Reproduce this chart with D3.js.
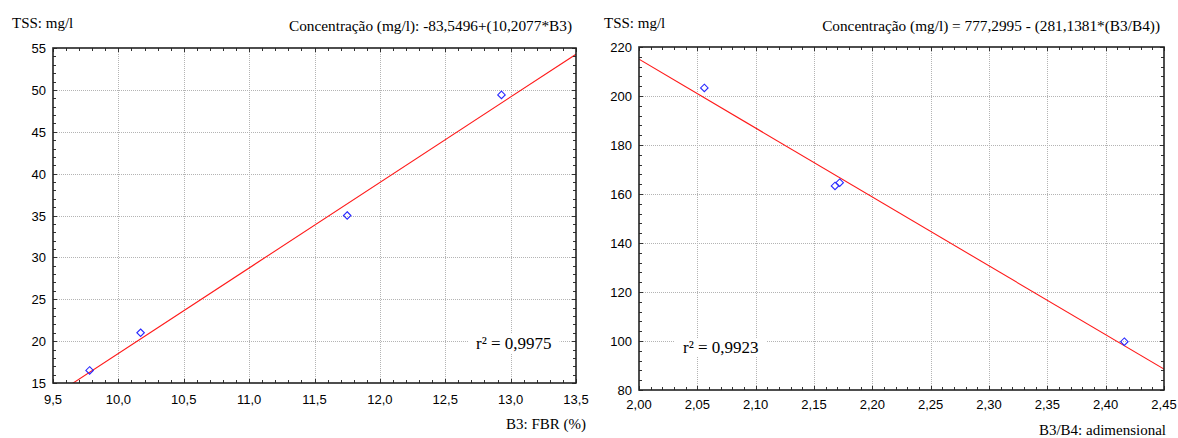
<!DOCTYPE html>
<html>
<head>
<meta charset="utf-8">
<script src="https://cdn.jsdelivr.net/npm/d3@7"></script>
<style>
  html, body { margin: 0; padding: 0; background: #fff; }
  svg { display: block; }
  .serif { font-family: "Liberation Serif", "Times New Roman", serif; fill: #000; }
  .tick-label { font-family: "Liberation Sans", Arial, sans-serif; font-size: 13px; fill: #000; }
</style>
</head>
<body>
<svg id="chart" width="1178" height="438"></svg>
<script>
// Observations: B3 reflectance (FBR, %) vs. total suspended solids
const fbrB3 = [9.78, 10.17, 11.75, 12.93];
const tssFbr = [16.5, 21.0, 35.0, 49.4];
// Observations: B3/B4 band ratio vs. total suspended solids
const ratioB3B4 = [2.056, 2.168, 2.172, 2.416];
const tssRatio = [203.3, 163.3, 164.6, 99.7];

// Linear fit coefficients
const fitFbr = [-83.5496, 10.2077];
const fitRatio = [777.2995, -281.1381];

// Axis tick values
const xTicksFbr = [9.5, 10.0, 10.5, 11.0, 11.5, 12.0, 12.5, 13.0, 13.5];
const yTicksFbr = [15, 20, 25, 30, 35, 40, 45, 50, 55];
const xTicksRatio = [2.00, 2.05, 2.10, 2.15, 2.20, 2.25, 2.30, 2.35, 2.40, 2.45];
const yTicksRatio = [80, 100, 120, 140, 160, 180, 200, 220];

const svg = d3.select("#chart");
const comma = (digits) => (v) => d3.format("." + digits + "f")(v).replace(".", ",");

function minorValues(ticks, parts) {
  const out = [];
  for (let i = 0; i < ticks.length - 1; i++) {
    const step = (ticks[i + 1] - ticks[i]) / parts;
    for (let k = 1; k < parts; k++) out.push(ticks[i] + k * step);
  }
  return out;
}

function panel(o) {
  const g = svg.append("g");
  const x = d3.scaleLinear().domain([o.xTicks[0], o.xTicks[o.xTicks.length - 1]]).range([o.left, o.right]);
  const y = d3.scaleLinear().domain([o.yTicks[0], o.yTicks[o.yTicks.length - 1]]).range([o.bottom, o.top]);

  // dotted grid
  const grid = g.append("g").attr("stroke", "#b4b4b4").attr("stroke-width", 1).attr("stroke-dasharray", "1,1");
  grid.selectAll("line.gx").data(o.xTicks.slice(1, -1)).join("line")
    .attr("x1", d => Math.round(x(d)) + 0.5).attr("x2", d => Math.round(x(d)) + 0.5)
    .attr("y1", o.top).attr("y2", o.bottom);
  grid.selectAll("line.gy").data(o.yTicks.slice(1, -1)).join("line")
    .attr("y1", d => Math.round(y(d)) + 0.5).attr("y2", d => Math.round(y(d)) + 0.5)
    .attr("x1", o.left).attr("x2", o.right);

  // r² label on a white patch, interrupting the grid
  const r2 = g.append("text").attr("class", "serif")
    .attr("x", o.r2x).attr("y", o.r2y).attr("font-size", 17)
    .text("r² = " + o.r2);
  const bb = r2.node().getBBox();
  g.insert("rect", "text").attr("x", bb.x - 8).attr("y", bb.y).attr("width", bb.width + 16)
    .attr("height", bb.height).attr("fill", "#fff");

  // fitted line, clipped to the plot area
  const clipId = "clip" + o.id;
  svg.append("clipPath").attr("id", clipId).append("rect")
    .attr("x", o.left).attr("y", o.top).attr("width", o.right - o.left).attr("height", o.bottom - o.top);
  const xd = x.domain();
  const fitPts = xd.map(v => [v, o.fit[0] + o.fit[1] * v]);
  g.append("path").attr("clip-path", "url(#" + clipId + ")")
    .attr("d", d3.line().x(d => x(d[0])).y(d => y(d[1]))(fitPts))
    .attr("fill", "none").attr("stroke", "#ff1a1a").attr("stroke-width", 1.1);

  // data markers (open diamonds)
  const pts = o.xs.map((v, i) => [v, o.ys[i]]);
  g.selectAll("path.pt").data(pts).join("path")
    .attr("d", d3.symbol(d3.symbolDiamond2, 36)())
    .attr("transform", d => "translate(" + x(d[0]) + "," + y(d[1]) + ")")
    .attr("fill", "none").attr("stroke", "#2a2aff").attr("stroke-width", 1.1);

  // inward ticks on all four sides
  const tk = g.append("g").attr("stroke", "#333").attr("stroke-width", 1);
  const xMinor = minorValues(o.xTicks, 5), yMinor = minorValues(o.yTicks, 5);
  const addX = (vals, len) => {
    vals.forEach(v => {
      const px = Math.round(x(v)) + 0.5;
      tk.append("line").attr("x1", px).attr("x2", px).attr("y1", o.bottom).attr("y2", o.bottom - len);
      tk.append("line").attr("x1", px).attr("x2", px).attr("y1", o.top).attr("y2", o.top + len);
    });
  };
  const addY = (vals, len) => {
    vals.forEach(v => {
      const py = Math.round(y(v)) + 0.5;
      tk.append("line").attr("y1", py).attr("y2", py).attr("x1", o.left).attr("x2", o.left + len);
      tk.append("line").attr("y1", py).attr("y2", py).attr("x1", o.right).attr("x2", o.right - len);
    });
  };
  addX(xMinor, 3); addX(o.xTicks, 4);
  addY(yMinor, 3); addY(o.yTicks, 4);

  // frame
  g.append("rect").attr("x", o.left).attr("y", o.top).attr("width", o.right - o.left)
    .attr("height", o.bottom - o.top).attr("fill", "none").attr("stroke", "#222").attr("stroke-width", 1.6);

  // tick labels
  g.selectAll("text.xl").data(o.xTicks).join("text").attr("class", "tick-label")
    .attr("x", d => x(d)).attr("y", o.bottom + o.xLabelGap).attr("text-anchor", "middle").text(comma(o.xDigits));
  g.selectAll("text.yl").data(o.yTicks).join("text").attr("class", "tick-label")
    .attr("x", o.left - 7).attr("y", d => y(d) + 5).attr("text-anchor", "end").text(d => d);

  // titles
  g.append("text").attr("class", "serif").attr("font-size", 15)
    .attr("x", o.yTitleX).attr("y", 28).text("TSS: mg/l");
  g.append("text").attr("class", "serif").attr("font-size", 15.3).attr("text-anchor", "end")
    .attr("x", o.right - 4).attr("y", 31).text(o.formula);
  g.append("text").attr("class", "serif").attr("font-size", 15).attr("text-anchor", "end")
    .attr("x", o.xTitleX).attr("y", o.xTitleY).text(o.xTitle);
}

panel({
  id: "a", left: 53, right: 576, top: 48, bottom: 383, xLabelGap: 21,
  xTicks: xTicksFbr, yTicks: yTicksFbr, xDigits: 1,
  xs: fbrB3, ys: tssFbr, fit: fitFbr, r2: "0,9975", r2x: 476, r2y: 349,
  yTitleX: 12, formula: "Concentração (mg/l): -83,5496+(10,2077*B3)",
  xTitle: "B3: FBR (%)", xTitleX: 586, xTitleY: 429
});

panel({
  id: "b", left: 639, right: 1164, top: 47, bottom: 390, xLabelGap: 19,
  xTicks: xTicksRatio, yTicks: yTicksRatio, xDigits: 2,
  xs: ratioB3B4, ys: tssRatio, fit: fitRatio, r2: "0,9923", r2x: 683, r2y: 353,
  yTitleX: 604, formula: "Concentração (mg/l) = 777,2995 - (281,1381*(B3/B4))",
  xTitle: "B3/B4: adimensional", xTitleX: 1166, xTitleY: 435
});
</script>
</body>
</html>
